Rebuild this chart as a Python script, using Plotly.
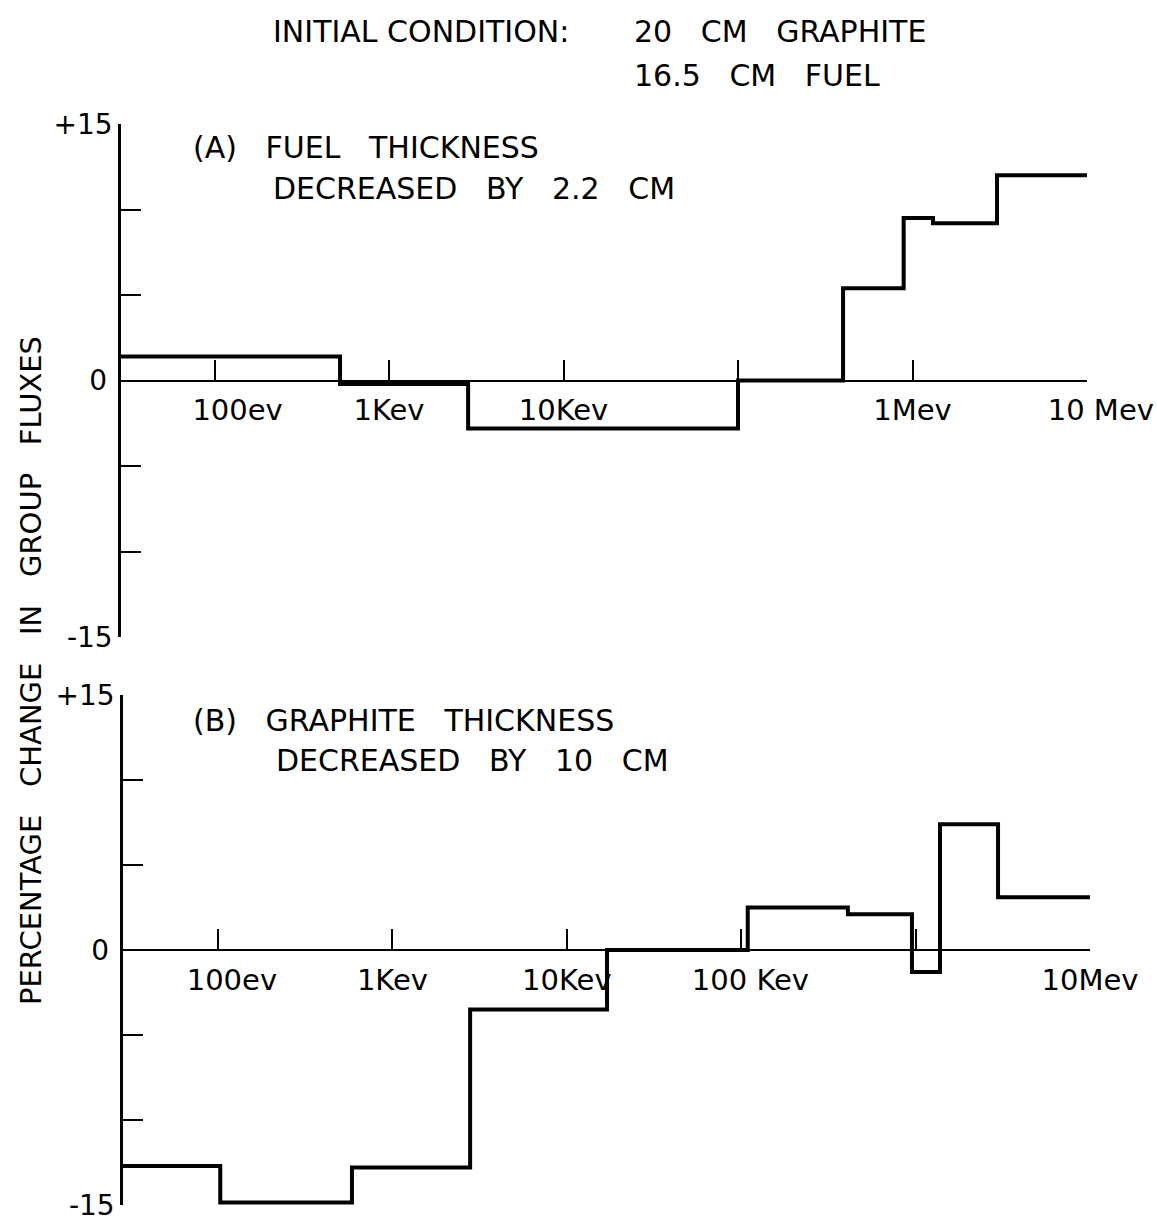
import plotly.graph_objects as go

# ---------------- data ----------------
# Panel A: fuel thickness decreased by 2.2 cm
a_edges_ev = [29, 524, 2840, 1.0e5, 4.0e5, 8.9e5, 1.31e6, 3.05e6, 1.0e7]
a_values = [1.4, -0.2, -2.8, 0.0, 5.4, 9.5, 9.2, 12.0]

# Panel B: graphite thickness decreased by 10 cm
b_edges_ev = [28.5, 103, 586, 2790, 1.7e4, 1.09e5, 4.09e5, 9.53e5, 1.38e6, 2.97e6, 1.0e7]
b_values = [-12.7, -14.85, -12.8, -3.5, 0.0, 2.5, 2.1, -1.3, 7.4, 3.1]

NB = "\u00a0"
x_tickvals = [1e2, 1e3, 1e4, 1e5, 1e6, 1e7]
a_ticktext = [NB * 5 + "100ev", "1Kev", "10Kev", "", "1Mev", NB * 3 + "10 Mev"]
b_ticktext = [NB * 3 + "100ev", "1Kev", "10Kev", NB * 2 + "100 Kev", "", "10Mev"]

y_tickvals = [-15, -10, -5, 0, 5, 10, 15]
y_ticktext = ["-15", "", "", "0\u2009", "", "", "+15"]

FONT = "DejaVu Sans"

W, H = 1157, 1224
ML, MR = 120, 66
PW = W - ML - MR


def px_x(p):
    return (p - ML) / PW


def px_y(p):
    return 1 - p / H


fig = go.Figure()

fig.add_trace(go.Scatter(
    x=a_edges_ev, y=a_values + [a_values[-1]], mode="lines",
    line=dict(shape="hv", color="black", width=4),
    xaxis="x", yaxis="y", showlegend=False, hoverinfo="skip"))

fig.add_trace(go.Scatter(
    x=b_edges_ev, y=b_values + [b_values[-1]], mode="lines",
    line=dict(shape="hv", color="black", width=4),
    xaxis="x2", yaxis="y2", showlegend=False, hoverinfo="skip"))

a_dom_y = [px_y(637), px_y(124)]
b_dom_y = [px_y(1205), px_y(695)]
a_dom_x = [px_x(121), px_x(1087)]
b_dom_x = [px_x(123), px_x(1090)]

xcommon = dict(type="log", tickvals=x_tickvals, ticks="inside", ticklen=20,
               tickwidth=2, tickcolor="black", showline=True, linecolor="black",
               linewidth=2, showgrid=False, zeroline=False, anchor="free",
               automargin=False, ticklabeloverflow="allow",
               tickfont=dict(family=FONT, size=29, color="black"),
               ticklabelstandoff=4)
ycommon = dict(range=[-15, 15], tickvals=y_tickvals, ticktext=y_ticktext,
               ticks="inside", ticklen=20, tickwidth=2, tickcolor="black",
               showline=True, linecolor="black", linewidth=2.5, showgrid=False,
               zeroline=False, automargin=False, ticklabeloverflow="allow",
               tickfont=dict(family=FONT, size=28, color="black"))

fig.update_layout(
    width=W, height=H,
    margin=dict(l=ML, r=MR, t=0, b=0, pad=0, autoexpand=False),
    paper_bgcolor="white", plot_bgcolor="white",
    xaxis=dict(domain=a_dom_x, range=[1.464, 7.0], ticktext=a_ticktext,
               position=(a_dom_y[0] + a_dom_y[1]) / 2, **xcommon),
    yaxis=dict(domain=a_dom_y, anchor="x", **ycommon),
    xaxis2=dict(domain=b_dom_x, range=[1.455, 7.0], ticktext=b_ticktext,
                position=(b_dom_y[0] + b_dom_y[1]) / 2, **xcommon),
    yaxis2=dict(domain=b_dom_y, anchor="x2", **ycommon),
)

big = dict(family=FONT, size=30, color="black")
mid = dict(family=FONT, size=30, color="black")

ann = [
    dict(text="INITIAL CONDITION:", x=px_x(271), y=px_y(31), font=big),
    dict(text="20   CM   GRAPHITE", x=px_x(632), y=px_y(31), font=big),
    dict(text="16.5   CM   FUEL", x=px_x(632), y=px_y(75), font=big),
    dict(text="(A)   FUEL   THICKNESS", x=px_x(191), y=px_y(147), font=mid),
    dict(text="DECREASED   BY   2.2   CM", x=px_x(271), y=px_y(188), font=mid),
    dict(text="(B)   GRAPHITE   THICKNESS", x=px_x(191), y=px_y(720), font=mid),
    dict(text="DECREASED   BY   10   CM", x=px_x(274), y=px_y(760), font=mid),
]
for a in ann:
    fig.add_annotation(xref="paper", yref="paper", xanchor="left",
                       yanchor="middle", showarrow=False, **a)

fig.add_annotation(text="PERCENTAGE   CHANGE   IN   GROUP   FLUXES",
                   xref="paper", yref="paper", x=px_x(31), y=px_y(671),
                   xanchor="center", yanchor="middle", textangle=-90,
                   showarrow=False, font=dict(family=FONT, size=29, color="black"))

fig.write_html("out.html")
